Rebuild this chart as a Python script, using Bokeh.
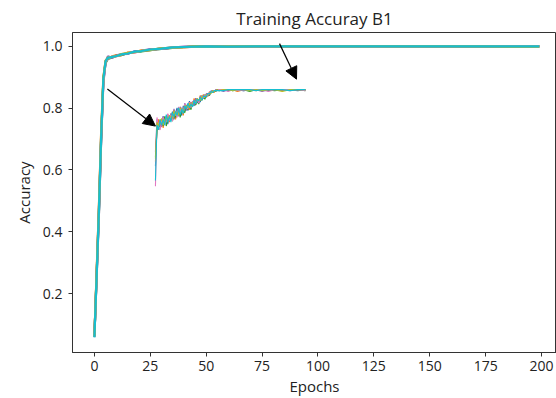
from bokeh.plotting import figure
from bokeh.models import Range1d, FixedTicker, Arrow, NormalHead, PrintfTickFormatter
from bokeh.embed import file_html
from bokeh.resources import INLINE

# ---------------- data ----------------
epochs = [0, 1, 2, 3, 4, 5, 6, 8, 10, 12, 15, 18, 21, 25, 30, 35, 40, 45, 50, 60, 75, 100, 125, 150, 175, 199]

acc_blue   = [0.059,0.265,0.462,0.698,0.888,0.951,0.962,0.965,0.971,0.973,0.977,0.983,0.985,0.990,0.993,0.996,0.998,0.999,0.999,1.000,1.000,1.000,1.000,1.000,1.000,1.000]
acc_orange = [0.065,0.270,0.480,0.720,0.900,0.955,0.960,0.968,0.972,0.971,0.980,0.981,0.987,0.988,0.994,0.995,0.998,1.000,0.999,1.000,1.000,0.999,1.000,1.000,1.000,1.000]
acc_green  = [0.063,0.258,0.455,0.695,0.892,0.946,0.959,0.964,0.970,0.972,0.978,0.982,0.984,0.988,0.992,0.995,0.998,0.999,1.000,1.000,1.000,1.000,1.000,1.000,0.999,1.000]
acc_purple = [0.062,0.250,0.450,0.690,0.880,0.948,0.968,0.963,0.971,0.975,0.976,0.984,0.986,0.991,0.992,0.996,0.999,0.998,1.000,1.000,0.999,1.000,1.000,0.999,1.000,1.000]
acc_pink   = [0.060,0.262,0.470,0.710,0.885,0.950,0.961,0.967,0.968,0.974,0.979,0.980,0.986,0.989,0.993,0.997,0.997,0.999,0.999,1.000,1.000,1.000,0.999,1.000,1.000,1.000]
acc_olive  = [0.061,0.268,0.475,0.715,0.897,0.953,0.964,0.966,0.969,0.975,0.979,0.981,0.986,0.989,0.994,0.996,0.997,1.000,0.999,1.000,1.000,1.000,1.000,1.000,1.000,0.999]
acc_cyan   = [0.058,0.255,0.465,0.705,0.895,0.952,0.963,0.966,0.969,0.974,0.977,0.983,0.985,0.990,0.993,0.997,0.998,0.999,1.000,0.999,1.000,1.000,1.000,1.000,1.000,1.000]

# zoomed inset (epochs 3..100)
inset_epochs = [3,4,5,6,7,8,9,10,11,12,13,14,15,16,17,18,19,20,21,22,23,24,25,26,27,28,29,30,
                31,32,33,34,35,36,37,38,39,40,41,42,43,44,
                47,50,53,56,60,64,68,72,76,80,85,90,95,100]

ins_blue   = [0.920,
              0.964,0.959,0.969,0.962,0.972,0.965,0.972,0.964,0.973,0.970,
              0.977,0.969,0.976,0.981,0.973,0.978,0.973,0.983,0.978,0.984,
              0.978,0.988,0.983,0.987,0.983,0.991,0.986,0.990,0.987,0.994,
              0.991,0.995,0.992,0.996,0.995,0.999,0.997,0.999,0.999,1.000,0.999,
              1.000,0.999,1.000,1.000,0.999,1.000,1.000,1.000,0.999,1.000,1.000,1.000,0.999,1.000]
ins_orange = [0.925,
              0.959,0.969,0.962,0.969,0.960,0.970,0.967,0.974,0.966,0.973,
              0.969,0.979,0.969,0.976,0.980,0.975,0.981,0.973,0.985,0.980,
              0.984,0.979,0.987,0.983,0.991,0.984,0.989,0.987,0.994,0.989,
              0.995,0.992,0.995,0.993,0.998,0.997,0.999,0.997,1.000,0.999,1.000,
              0.999,1.000,1.000,0.998,1.000,1.000,0.999,1.000,1.000,1.000,0.999,1.000,1.000,1.000]
ins_green  = [0.930,
              0.957,0.964,0.961,0.967,0.962,0.972,0.962,0.970,0.968,0.975,
              0.967,0.975,0.971,0.974,0.979,0.971,0.980,0.978,0.976,0.983,
              0.979,0.984,0.979,0.987,0.985,0.984,0.990,0.985,0.991,0.989,
              0.992,0.990,0.995,0.994,0.994,0.998,0.997,0.998,0.998,1.000,0.999,
              1.000,1.000,0.999,1.000,1.000,0.998,1.000,1.000,1.000,0.999,1.000,1.000,1.000,0.999]
ins_purple = [0.935,
              0.969,0.961,0.967,0.961,0.972,0.966,0.970,0.974,0.967,0.975,
              0.970,0.980,0.973,0.978,0.972,0.982,0.979,0.977,0.986,0.978,
              0.984,0.987,0.983,0.988,0.984,0.991,0.989,0.988,0.993,0.991,
              0.994,0.992,0.996,0.996,0.995,0.998,0.999,0.998,1.000,0.999,1.000,
              0.998,1.000,1.000,1.000,0.999,1.000,1.000,0.998,1.000,1.000,1.000,0.999,1.000,1.000]
ins_pink   = [0.899,
              0.971,0.960,0.958,0.967,0.971,0.963,0.969,0.975,0.968,0.974,
              0.967,0.977,0.976,0.971,0.982,0.976,0.981,0.976,0.985,0.982,
              0.980,0.987,0.981,0.987,0.989,0.986,0.990,0.986,0.991,0.993,
              0.991,0.994,0.994,0.994,0.998,0.997,0.997,0.999,0.999,0.999,1.000,
              1.000,0.998,1.000,0.999,1.000,1.000,1.000,1.000,0.998,1.000,1.000,1.000,1.000,0.999]
ins_olive  = [0.928,
              0.966,0.962,0.966,0.970,0.963,0.968,0.972,0.967,0.973,0.972,
              0.970,0.978,0.973,0.977,0.973,0.981,0.979,0.977,0.983,0.983,
              0.981,0.986,0.982,0.986,0.988,0.986,0.991,0.989,0.989,0.993,
              0.993,0.992,0.995,0.995,0.997,0.996,0.999,0.998,0.999,1.000,0.999,
              1.000,1.000,0.999,1.000,1.000,0.999,1.000,0.999,1.000,1.000,0.998,1.000,1.000,1.000]
ins_cyan   = [0.905,
              0.963,0.958,0.968,0.963,0.969,0.963,0.974,0.966,0.972,0.966,
              0.976,0.972,0.977,0.973,0.981,0.974,0.980,0.975,0.983,0.980,
              0.986,0.981,0.985,0.982,0.989,0.985,0.990,0.988,0.992,0.989,
              0.993,0.993,0.993,0.996,0.996,0.998,0.997,0.999,0.999,0.999,0.999,
              0.999,1.000,1.000,1.000,1.000,1.000,0.999,1.000,1.000,1.000,1.000,0.999,1.000,1.000]

x_ticks = [0, 25, 50, 75, 100, 125, 150, 175, 200]
y_ticks = [0.2, 0.4, 0.6, 0.8, 1.0]

main_series = [acc_blue, acc_orange, acc_green, acc_purple, acc_pink, acc_olive, acc_cyan]
inset_series = [ins_blue, ins_orange, ins_green, ins_purple, ins_pink, ins_olive, ins_cyan]
colors = ["#1f77b4", "#ff7f0e", "#2ca02c", "#9467bd", "#e377c2", "#bcbd22", "#17becf"]

# ---------------- layout ----------------
X_LO, X_HI = -9.8, 206.7
Y_LO, Y_HI = 0.009, 1.045

# inset placement (in main data coordinates)
IX0, IX1 = 27.3, 94.4      # where inset epochs 3 and 100 are drawn
IY0, IY1 = 0.55, 0.86      # where inset accuracy 0.9 and 1.0 are drawn
ie0, ie1 = 3.0, 100.0
ia0, ia1 = 0.9, 1.0
kx = (ie1 - ie0) / (IX1 - IX0)
ky = (ia1 - ia0) / (IY1 - IY0)

FONT = "Open Sans"

p = figure(width=556, height=398, output_backend="svg", toolbar_location=None,
           x_range=Range1d(X_LO, X_HI), y_range=Range1d(Y_LO, Y_HI),
           min_border_left=72, min_border_right=0, min_border_top=32, min_border_bottom=46,
           title="Training Accuray B1")

p.extra_x_ranges = {"ix": Range1d(ie0 + (X_LO - IX0) * kx, ie0 + (X_HI - IX0) * kx)}
p.extra_y_ranges = {"iy": Range1d(ia0 + (Y_LO - IY0) * ky, ia0 + (Y_HI - IY0) * ky)}

p.title.align = "center"
p.title.text_font = FONT
p.title.text_font_size = "17px"
p.title.text_font_style = "normal"
p.title.text_color = "#222222"
p.title.standoff = 6

p.grid.visible = False
p.outline_line_color = "#333333"
p.background_fill_color = "white"
p.border_fill_color = "white"

for ax in (p.xaxis[0], p.yaxis[0]):
    ax.axis_line_color = "#333333"
    ax.major_tick_line_color = "#333333"
    ax.major_tick_out = 4
    ax.major_tick_in = 0
    ax.minor_tick_line_color = None
    ax.major_label_text_font = FONT
    ax.major_label_text_font_size = "14px"
    ax.major_label_text_color = "#222222"
    ax.axis_label_text_font = FONT
    ax.axis_label_text_font_size = "15px"
    ax.axis_label_text_font_style = "normal"
    ax.axis_label_text_color = "#222222"

p.xaxis.ticker = FixedTicker(ticks=x_ticks)
p.yaxis.ticker = FixedTicker(ticks=y_ticks)
p.yaxis.formatter = PrintfTickFormatter(format="%.1f")
p.xaxis.axis_label = "Epochs"
p.yaxis.axis_label = "Accuracy"
p.xaxis.major_label_standoff = 4
p.yaxis.major_label_standoff = 6
p.xaxis.axis_label_standoff = 2
p.yaxis.axis_label_standoff = 6

for vals, c in zip(main_series, colors):
    p.line(epochs, vals, line_color=c, line_width=2.2)

for vals, c in zip(inset_series, colors):
    p.line(inset_epochs, vals, line_color=c, line_width=1.1,
           x_range_name="ix", y_range_name="iy")

# arrows
p.add_layout(Arrow(end=NormalHead(size=12, fill_color="black", line_color="black"),
                   x_start=5.8, y_start=0.862, x_end=27.3, y_end=0.742,
                   line_color="black", line_width=1.2))
p.add_layout(Arrow(end=NormalHead(size=12, fill_color="black", line_color="black"),
                   x_start=82.8, y_start=1.009, x_end=90.4, y_end=0.894,
                   line_color="black", line_width=1.2))

open("out.html", "w").write(file_html(p, INLINE))
